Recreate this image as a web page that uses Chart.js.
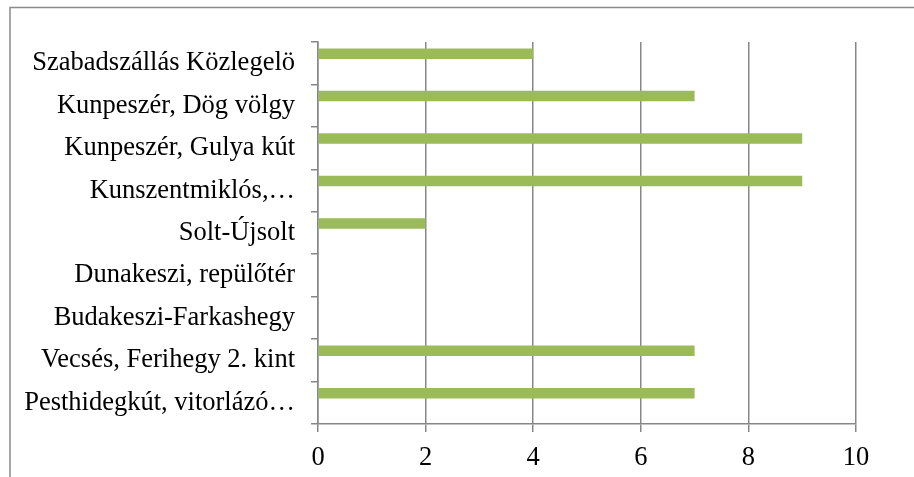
<!DOCTYPE html>
<html>
<head>
  <title>Horizontal bar chart</title>
  <script src="https://cdn.jsdelivr.net/npm/chart.js"></script>
  <style>
    body { margin: 0; background: #fff; }
    #wrap { width: 914px; height: 477px; }
  </style>
</head>
<body>
  <div id="wrap"><canvas id="chart"></canvas></div>

  <script>
    // Sites, listed top to bottom
    const sites = [
      'Szabadszállás Közlegelö',
      'Kunpeszér, Dög völgy',
      'Kunpeszér, Gulya kút',
      'Kunszentmiklós,…',
      'Solt-Újsolt',
      'Dunakeszi, repülőtér',
      'Budakeszi-Farkashegy',
      'Vecsés, Ferihegy 2. kint',
      'Pesthidegkút, vitorlázó…'
    ];
    const counts = [4, 7, 9, 9, 2, 0, 0, 7, 7];
    // second series has no values, it only keeps its slot in each group
    const emptySeries = [null, null, null, null, null, null, null, null, null];
    const xTicks = [0, 2, 4, 6, 8, 10];

    const gridColor = '#878787';

    // grey frame around the whole chart
    const framePlugin = {
      id: 'frame',
      beforeDraw(chart) {
        const c = chart.ctx;
        c.save();
        c.strokeStyle = '#8a8a8a';
        c.lineWidth = 1.5;
        c.strokeRect(10, 7.5, 1000, 1000);
        c.restore();
      }
    };

    const ctx = document.getElementById('chart').getContext('2d');
    const chart = new Chart(ctx, {
      type: 'bar',
      data: {
        labels: sites,
        datasets: [
          {
            label: 'Sites',
            data: counts,
            backgroundColor: '#9bbb59',
            categoryPercentage: 0.9,
            barPercentage: 0.55
          },
          {
            label: 'Empty',
            data: emptySeries,
            backgroundColor: 'transparent',
            categoryPercentage: 0.9,
            barPercentage: 0.55
          }
        ]
      },
      options: {
        indexAxis: 'y',
        responsive: true,
        maintainAspectRatio: false,
        animation: false,
        layout: { padding: { top: 42, right: 58, left: 0, bottom: 0 } },
        plugins: {
          legend: { display: false },
          tooltip: { enabled: false }
        },
        scales: {
          x: {
            min: 0,
            max: 10,
            afterBuildTicks: (scale) => {
              scale.ticks = xTicks.map(v => ({ value: v }));
            },
            afterFit: (scale) => { scale.height = 53; },
            grid: {
              color: gridColor,
              lineWidth: 1.5,
              tickLength: 8
            },
            border: { color: gridColor, width: 1.5 },
            ticks: {
              color: '#000',
              padding: 10,
              font: { family: 'Liberation Serif', size: 26.5 }
            }
          },
          y: {
            afterFit: (scale) => { scale.width = 318; },
            grid: {
              offset: true,
              drawOnChartArea: false,
              color: gridColor,
              lineWidth: 1.5,
              tickLength: 7
            },
            border: { color: gridColor, width: 1.5 },
            ticks: {
              color: '#000',
              padding: 16,
              font: { family: 'Liberation Serif', size: 26.5 }
            }
          }
        }
      },
      plugins: [framePlugin]
    });
  </script>
</body>
</html>
